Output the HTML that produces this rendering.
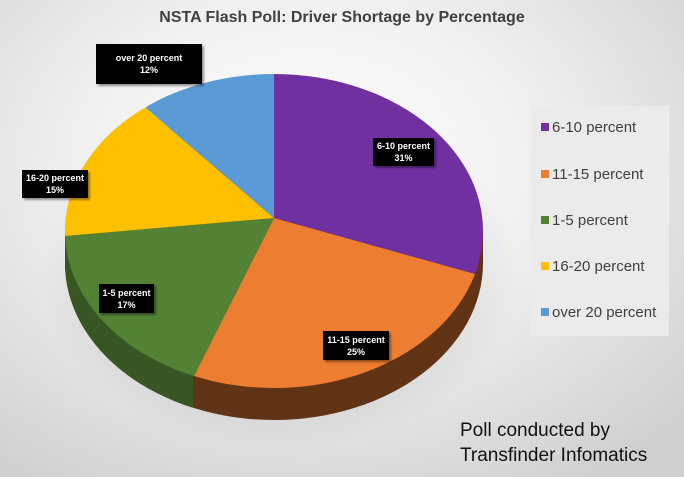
<!DOCTYPE html>
<html><head><style>
body{margin:0;width:684px;height:477px;overflow:hidden;font-family:"Liberation Sans",sans-serif}
.bg{position:absolute;left:0;top:0;width:684px;height:477px;background:radial-gradient(ellipse 75% 80% at 45% 35%,#ffffff 0%,#f0f0f0 45%,#cfcfcf 100%)}
.lab{position:absolute;background:#000;color:#fff;font-weight:bold;font-size:9px;text-align:center;line-height:12px;box-shadow:2px 2px 2px rgba(0,0,0,.4);display:flex;flex-direction:column;justify-content:center}
.leg{position:absolute;left:531px;top:106px;width:138px;height:230px;background:#ebebeb}
.li{position:absolute;left:10px;font-size:15px;color:#404040;line-height:16px}
.li i{display:inline-block;width:8px;height:8px;margin-right:3px;vertical-align:1px}
</style></head><body>
<div class="bg"></div>
<svg width="684" height="477" style="position:absolute;left:0;top:0">
<defs><radialGradient id="sh"><stop offset="0" stop-color="#000" stop-opacity=".25"/><stop offset="1" stop-color="#000" stop-opacity="0"/></radialGradient>
<clipPath id="cl"><rect x="0" y="0" width="193" height="477"/></clipPath></defs>
<ellipse cx="280" cy="275" rx="240" ry="175" fill="url(#sh)"/>
<g>
<ellipse cx="274" cy="263" rx="209" ry="157" fill="#603314"/>
<rect x="65" y="231" width="418" height="32" fill="#603314"/>
<g clip-path="url(#cl)"><ellipse cx="274" cy="263" rx="209" ry="157" fill="#375623"/><rect x="65" y="231" width="128" height="32" fill="#375623"/></g>
</g>
<clipPath id="top"><ellipse cx="274" cy="231" rx="209" ry="157"/></clipPath>
<g clip-path="url(#top)">
<polygon points="274,218 274,40 520,40 520,290 475,274" fill="#7030a0"/>
<polygon points="274,218 475,274 520,290 520,420 193,420 193,378" fill="#ed7d31"/>
<polygon points="274,218 193,378 193,420 30,420 30,238 65,236" fill="#548235"/>
<polygon points="274,218 65,236 30,238 30,60 146,108" fill="#ffc000"/>
<polygon points="274,218 146,108 150,40 274,40" fill="#5b9bd5"/>
</g>
</svg>
<div style="position:absolute;left:0;top:9px;width:684px;text-align:center;font-weight:bold;font-size:16px;color:#404040">NSTA Flash Poll: Driver Shortage by Percentage</div>
<div class="lab" style="left:96px;top:44px;width:106px;height:40px"><span>over 20 percent</span><span>12%</span></div>
<div class="lab" style="left:373px;top:138px;width:61px;height:28px"><span>6-10 percent</span><span>31%</span></div>
<div class="lab" style="left:22px;top:170px;width:66px;height:28px"><span>16-20 percent</span><span>15%</span></div>
<div class="lab" style="left:99px;top:284px;width:55px;height:29px"><span>1-5 percent</span><span>17%</span></div>
<div class="lab" style="left:323px;top:331px;width:66px;height:29px"><span>11-15 percent</span><span>25%</span></div>
<div class="leg">
<div class="li" style="top:14px"><i style="background:#7030a0"></i>6-10 percent</div>
<div class="li" style="top:61px"><i style="background:#ed7d31"></i>11-15 percent</div>
<div class="li" style="top:107px"><i style="background:#548235"></i>1-5 percent</div>
<div class="li" style="top:153px"><i style="background:#ffc000"></i>16-20 percent</div>
<div class="li" style="top:199px"><i style="background:#5b9bd5"></i>over 20 percent</div>
</div>
<div style="position:absolute;left:460px;top:418px;font-size:19px;line-height:25px;color:#111">Poll conducted by<br>Transfinder Infomatics</div>
</body></html>
